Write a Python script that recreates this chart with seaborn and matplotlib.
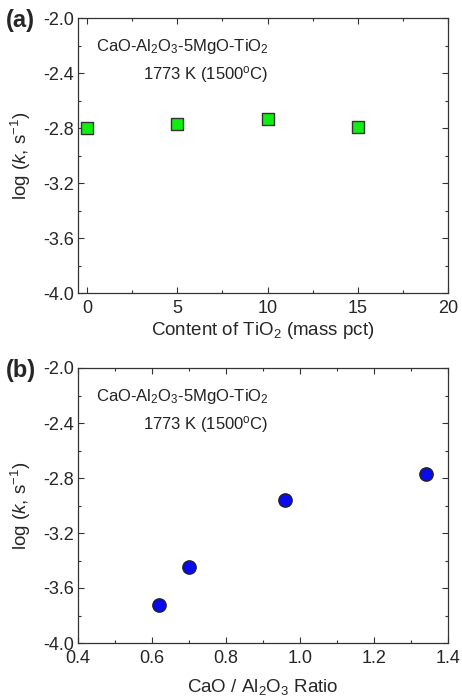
import matplotlib
matplotlib.use("Agg")
import matplotlib.pyplot as plt
import seaborn as sns
import pandas as pd
from matplotlib.ticker import MultipleLocator

# Rate constants at 1773 K
tio2_content = [0, 5, 10, 15]
logk_tio2 = [-2.80, -2.773, -2.732, -2.793]

cao_al2o3_ratio = [0.62, 0.70, 0.96, 1.34]
logk_ratio = [-3.72, -3.45, -2.96, -2.77]

sns.set_style("ticks")
plt.rcParams["font.family"] = ["Liberation Sans", "DejaVu Sans"]
plt.rcParams["mathtext.fontset"] = "custom"
plt.rcParams["mathtext.rm"] = "Liberation Sans"
plt.rcParams["mathtext.it"] = "Liberation Sans:italic"
plt.rcParams["axes.unicode_minus"] = False

fig = plt.figure(figsize=(4.62, 7.0), dpi=100)
W, H = 462, 700
ax_a = fig.add_axes([78 / W, 1 - 293 / H, (448 - 78) / W, 275 / H])
ax_b = fig.add_axes([78 / W, 1 - 643 / H, (448 - 78) / W, 275 / H])

df_a = pd.DataFrame({"x": tio2_content, "y": logk_tio2})
df_b = pd.DataFrame({"x": cao_al2o3_ratio, "y": logk_ratio})

sns.scatterplot(data=df_a, x="x", y="y", ax=ax_a, marker="s", s=66,
                color="#11ee11", edgecolor="#333333", linewidth=1.0, zorder=3)
sns.scatterplot(data=df_b, x="x", y="y", ax=ax_b, marker="o", s=92,
                color="#0a0aee", edgecolor="#222222", linewidth=1.0, zorder=3)

ylabel = r"log ($\mathit{k}$, s$^{-1}$)"
for ax in (ax_a, ax_b):
    ax.set_ylim(-4.0, -2.0)
    ax.yaxis.set_major_locator(MultipleLocator(0.4))
    ax.yaxis.set_minor_locator(MultipleLocator(0.2))
    ax.set_ylabel(ylabel, fontsize=13.5, labelpad=7)
    ax.tick_params(which="both", direction="in", top=True, right=True,
                   labelsize=13, width=0.8, color="#333333", pad=3)
    ax.tick_params(axis="x", which="both", pad=5)
    ax.tick_params(which="major", length=4)
    ax.tick_params(which="minor", length=2.5)
    for sp in ax.spines.values():
        sp.set_linewidth(0.9)
        sp.set_color("#333333")
    ax.text(0.05, 0.895, r"CaO-Al$_2$O$_3$-5MgO-TiO$_2$", transform=ax.transAxes,
            fontsize=12, ha="left", va="center", color="#222222")
    ax.text(0.176, 0.793, r"1773 K (1500$^{\mathrm{o}}$C)", transform=ax.transAxes,
            fontsize=12, ha="left", va="center", color="#222222")

ax_a.set_xlim(-0.5, 20)
ax_a.xaxis.set_major_locator(MultipleLocator(5))
ax_a.xaxis.set_minor_locator(MultipleLocator(2.5))
ax_a.set_xlabel(r"Content of TiO$_2$ (mass pct)", fontsize=13.5, labelpad=2)

ax_b.set_xlim(0.4, 1.4)
ax_b.xaxis.set_major_locator(MultipleLocator(0.2))
ax_b.xaxis.set_minor_locator(MultipleLocator(0.1))
ax_b.set_xlabel(r"CaO / Al$_2$O$_3$ Ratio", fontsize=13.5, labelpad=7)

fig.text(6 / W, 1 - 20 / H, "(a)", fontsize=17, fontweight="bold", va="center", ha="left")
fig.text(6 / W, 1 - 370 / H, "(b)", fontsize=17, fontweight="bold", va="center", ha="left")

fig.savefig("out.png", dpi=100)
